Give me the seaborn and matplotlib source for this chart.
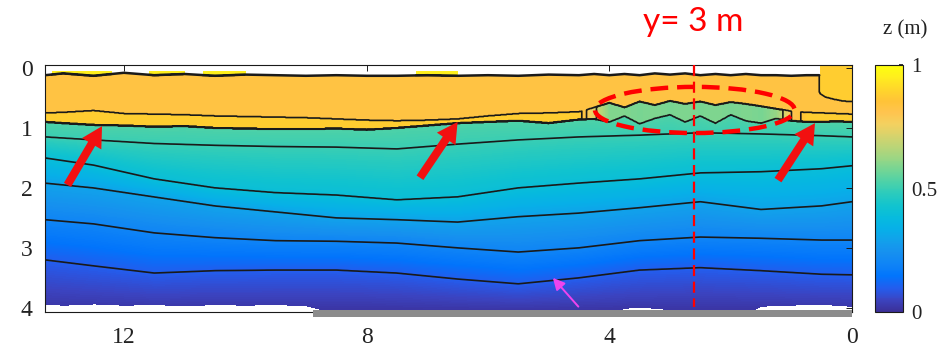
import numpy as np
import matplotlib
matplotlib.use('Agg')
import matplotlib.pyplot as plt
import seaborn as sns
from matplotlib.colors import LinearSegmentedColormap, rgb_to_hsv, hsv_to_rgb
from matplotlib.patches import Ellipse, Rectangle

# ---------------- data ----------------
# smooth contour curves (y position, m) at alongshore stations (x, m)
XS = [13.3, 12.5, 11.5, 10.5, 9.5, 8.5, 7.5, 6.5, 5.5, 4.5, 3.5, 2.5, 1.5, 0.5, 0.0]
C1 = [1.15, 1.20, 1.26, 1.29, 1.31, 1.32, 1.35, 1.27, 1.20, 1.15, 1.12, 1.08, 1.10, 1.13, 1.15]
C2 = [1.50, 1.62, 1.85, 2.00, 2.08, 2.12, 2.20, 2.15, 2.00, 1.92, 1.85, 1.75, 1.73, 1.68, 1.63]
C3 = [1.92, 2.00, 2.15, 2.30, 2.40, 2.50, 2.53, 2.57, 2.48, 2.42, 2.33, 2.23, 2.36, 2.30, 2.23]
C4 = [2.53, 2.60, 2.75, 2.83, 2.88, 2.89, 2.92, 3.00, 3.07, 3.00, 2.88, 2.82, 2.84, 2.87, 2.87]
C5 = [3.20, 3.30, 3.42, 3.38, 3.37, 3.37, 3.42, 3.52, 3.60, 3.50, 3.37, 3.33, 3.38, 3.44, 3.45]
CURVE_Z = [0.5, 0.4, 0.3, 0.2, 0.1]

# scarp / berm edge curves at finer stations
XS_STEP = [13.3, 13.0, 12.5, 12.0, 11.5, 11.0, 10.5, 10.0, 9.5, 9.0, 8.5, 8.0, 7.5, 7.0,
           6.5, 6.0, 5.5, 5.0, 4.5, 4.25, 4.0, 3.75, 3.5, 3.25, 3.0, 2.75, 2.5, 2.25,
           2.0, 1.75, 1.5, 1.25, 1.0, 0.75, 0.5, 0.25, 0.0]
TOP_Y = [0.12, 0.09, 0.13, 0.08, 0.12, 0.10, 0.13, 0.11, 0.12, 0.13, 0.12, 0.13, 0.13, 0.12,
         0.13, 0.12, 0.13, 0.11, 0.12, 0.10, 0.12, 0.10, 0.12, 0.09, 0.11, 0.09, 0.12, 0.10,
         0.12, 0.10, 0.12, 0.12, 0.13, 0.12, 0.12, 0.12, 0.12]
S_UP = [0.75, 0.74, 0.71, 0.76, 0.77, 0.78, 0.80, 0.81, 0.82, 0.83, 0.85, 0.87, 0.88, 0.87,
        0.85, 0.80, 0.76, 0.75, 0.73, 0.66, 0.58, 0.66, 0.56, 0.62, 0.55, 0.60, 0.56, 0.62,
        0.57, 0.60, 0.64, 0.68, 0.72, 0.74, 0.75, 0.76, 0.77]
S_DN = [0.90, 0.92, 0.95, 0.96, 0.98, 0.97, 1.00, 1.01, 1.02, 1.02, 1.01, 1.03, 1.00, 0.96,
        0.92, 0.90, 0.88, 0.92, 0.86, 0.85, 0.90, 0.80, 0.93, 0.84, 0.78, 0.90, 0.80, 0.92,
        0.78, 0.88, 0.92, 0.84, 0.88, 0.90, 0.90, 0.89, 0.90]
STRIP_Z = [0.88] * 19 + [0.72, 0.59, 0.59, 0.58, 0.59, 0.58, 0.59, 0.58, 0.59, 0.58,
                         0.59, 0.58, 0.62, 0.80, 0.88, 0.88, 0.88, 0.88]
BOT_Y = [3.95, 3.97, 3.95, 3.97, 3.96, 3.98, 3.96, 3.97, 3.96, 3.98, 4.10, 4.10, 4.10, 4.10,
         4.10, 4.10, 4.10, 4.10, 4.10, 4.10, 4.10, 4.02, 4.00, 4.02, 4.04, 4.10, 4.10, 4.10,
         4.10, 4.10, 3.99, 3.97, 3.97, 3.96, 3.96, 3.97, 3.99]
PLATEAU_Z = 0.83
STEP_BASE_Z = 0.53
BOTTOM_Z = 0.01
# dune top patch at the right end
RIGHT_X = 0.54
R_X = [0.54, 0.53, 0.45, 0.30, 0.15, 0.0]
R_Y = [0.37, 0.42, 0.48, 0.52, 0.55, 0.56]
RIGHT_Z = 0.88
# bright dry patches above the top edge
YELLOW_RANGES = [(12.2, 13.2), (11.0, 11.6), (10.0, 10.7), (6.5, 7.2)]
YELLOW_Z = 0.95
LEVELS = [0.1, 0.2, 0.3, 0.4, 0.5, 0.55, 0.7, 0.8, 0.85, 0.9]
CBAR_TICKS = [0, 0.5, 1]
CBAR_LABELS = ['0', '0.5', '1']
X_TICKS = [12, 8, 4, 0]
Y_TICKS = [0, 1, 2, 3, 4]

# ---------------- parula colormap (slightly brightened like the figure) ----------------
PARULA_ROWS = [1, 4, 7, 10, 13, 16, 19, 22, 25, 28, 31, 34, 37, 40, 43, 46, 49, 52, 55, 58, 61, 64]
PARULA_RGB = [
    (0.2081, 0.1663, 0.5292), (0.2081, 0.2386, 0.6771), (0.1253, 0.3242, 0.8303),
    (0.0060, 0.4086, 0.8828), (0.0498, 0.4586, 0.8641), (0.0779, 0.5040, 0.8384),
    (0.0641, 0.5570, 0.8240), (0.0265, 0.6137, 0.8135), (0.0228, 0.6535, 0.7768),
    (0.0590, 0.6838, 0.7254), (0.1453, 0.7098, 0.6646), (0.2586, 0.7317, 0.5954),
    (0.3953, 0.7459, 0.5244), (0.5300, 0.7491, 0.4661), (0.6473, 0.7456, 0.4188),
    (0.7525, 0.7384, 0.3768), (0.8507, 0.7299, 0.3360), (0.9450, 0.7261, 0.2886),
    (0.9990, 0.7653, 0.2164), (0.9789, 0.8271, 0.1633), (0.9589, 0.8949, 0.1132),
    (0.9763, 0.9831, 0.0538)]
hsv = rgb_to_hsv(np.array(PARULA_RGB))
hsv[:, 2] = np.clip(hsv[:, 2] * 1.12, 0, 1)
rgb = hsv_to_rgb(hsv)
cmap = LinearSegmentedColormap.from_list(
    'parula', list(zip([(r - 1) / 63 for r in PARULA_ROWS], [tuple(c) for c in rgb])), N=256)
cmap.set_bad('white')

# ---------------- build the gridded surface ----------------
X0, X1, Y0, Y1 = 0.0, 13.3, -0.05, 4.07
gx = np.linspace(X0, X1, 1100)
gy = np.linspace(Y0, Y1, 520)
GX, GY = np.meshgrid(gx, gy)


def col(stations, vals):
    return np.interp(gx, np.asarray(stations)[::-1], np.asarray(vals)[::-1])


c_cols = [col(XS, c) for c in (C1, C2, C3, C4, C5)]
s_up = col(XS_STEP, S_UP)
s_dn = col(XS_STEP, S_DN)
strip = col(XS_STEP, STRIP_Z)
top = np.where(gx < RIGHT_X, -1.0, col(XS_STEP, TOP_Y))
bot = col(XS_STEP, BOT_Y)
r_edge = np.interp(gx, R_X[::-1], R_Y[::-1])

Z = np.empty_like(GX)
for j in range(gx.size):
    ys = [s_dn[j]] + [c[j] for c in c_cols] + [Y1 + 0.01]
    zs = [STEP_BASE_Z] + CURVE_Z + [BOTTOM_Z]
    Z[:, j] = np.interp(gy, ys, zs)

Z = np.where(GY < s_dn[None, :], strip[None, :], Z)
Z = np.where(GY < s_up[None, :], PLATEAU_Z, Z)
Z = np.where((GX < RIGHT_X) & (GY < r_edge[None, :]), RIGHT_Z, Z)
yellow = np.zeros_like(GX, dtype=bool)
for a, b in YELLOW_RANGES:
    yellow |= (GX >= a) & (GX <= b) & (GY > 0.05)
above = GY < top[None, :]
Z = np.where(above & yellow, YELLOW_Z, np.where(above, np.nan, Z))
Z = np.where(GY > bot[None, :], np.nan, Z)
Zm = np.ma.masked_invalid(Z)

# ---------------- figure ----------------
sns.set_theme(style='white')
plt.rcParams['font.family'] = ['Liberation Serif', 'DejaVu Serif']

W, H = 946, 353
fig = plt.figure(figsize=(W / 100, H / 100), dpi=100)
ax = fig.add_axes([45 / W, 41 / H, 807 / W, 247 / H])
cax = fig.add_axes([875 / W, 41 / H, 28 / W, 247 / H])

im = ax.imshow(Zm, extent=(X0, X1, Y1, Y0), origin='upper', cmap=cmap,
               vmin=0, vmax=1, aspect='auto', interpolation='nearest')
ax.contour(gx, gy, Zm, levels=LEVELS, colors='k', linewidths=1.2)

# top edge of the surveyed surface
keep = [i for i, x in enumerate(XS_STEP) if x >= RIGHT_X]
sns.lineplot(x=[XS_STEP[i] for i in keep] + [RIGHT_X],
             y=[TOP_Y[i] for i in keep] + [TOP_Y[keep[-1]]],
             color='k', lw=1.8, ax=ax, estimator=None, sort=False, legend=False)

ax.set_xlim(X1, X0)
ax.set_ylim(Y1, Y0)
ax.set_xticks(X_TICKS)
ax.set_yticks(Y_TICKS)
ax.set_xlabel('')
ax.set_ylabel('')
ax.tick_params(direction='in', length=4, top=True, right=True, labelsize=17,
               colors='k', labelcolor='#222222', width=0.7)
ax.tick_params(axis='x', pad=11)
ax.tick_params(axis='y', pad=9)
for sp in ax.spines.values():
    sp.set_color('k')
    sp.set_linewidth(0.8)

# annotations
ax.plot([2.6, 2.6], [Y0, 3.98], color='red', lw=1.6, ls=(0, (5, 2.5)), zorder=6)
ax.add_patch(Ellipse((2.59, 0.70), width=3.29, height=0.77, fill=False, ec='red',
                     lw=3.2, ls=(0, (4, 2)), zorder=7))
for tail, tip in [((12.93, 1.95), (12.36, 0.97)),
                  ((7.12, 1.83), (6.50, 0.90)),
                  ((1.22, 1.87), (0.61, 0.92))]:
    ax.annotate('', xy=tip, xytext=tail,
                arrowprops=dict(arrowstyle='simple,head_length=1.05,head_width=1.15,tail_width=0.42',
                                fc='#f21010', ec='none', mutation_scale=14,
                                shrinkA=0, shrinkB=0), zorder=8)
ax.annotate('', xy=(4.93, 3.50), xytext=(4.51, 3.98),
            arrowprops=dict(arrowstyle='-|>,head_length=0.5,head_width=0.25', color='#ee44ee',
                            lw=1.4, mutation_scale=14, shrinkA=0, shrinkB=0), zorder=8)
ax.add_patch(Rectangle((0.0, 4.03), 8.88, 0.13, color='#8c8c8c', clip_on=False,
                       zorder=9, lw=0))

# colorbar
cb = fig.colorbar(im, cax=cax, ticks=CBAR_TICKS)
cb.ax.set_yticklabels(CBAR_LABELS)
cb.ax.tick_params(labelsize=15, direction='in', length=3, pad=6, colors='k',
                  labelcolor='#222222')
cb.outline.set_linewidth(0.8)
cb.outline.set_edgecolor('k')

fig.text(905 / W, 1 - 30 / H, 'z (m)', ha='center', va='center', fontsize=15,
         color='#222222')
fig.text(693 / W, 1 - 22 / H, 'y= 3 m', ha='center', va='center', fontsize=24,
         color='#ff0000', family=['Lato', 'DejaVu Sans'])

fig.savefig('out.png', dpi=100)
